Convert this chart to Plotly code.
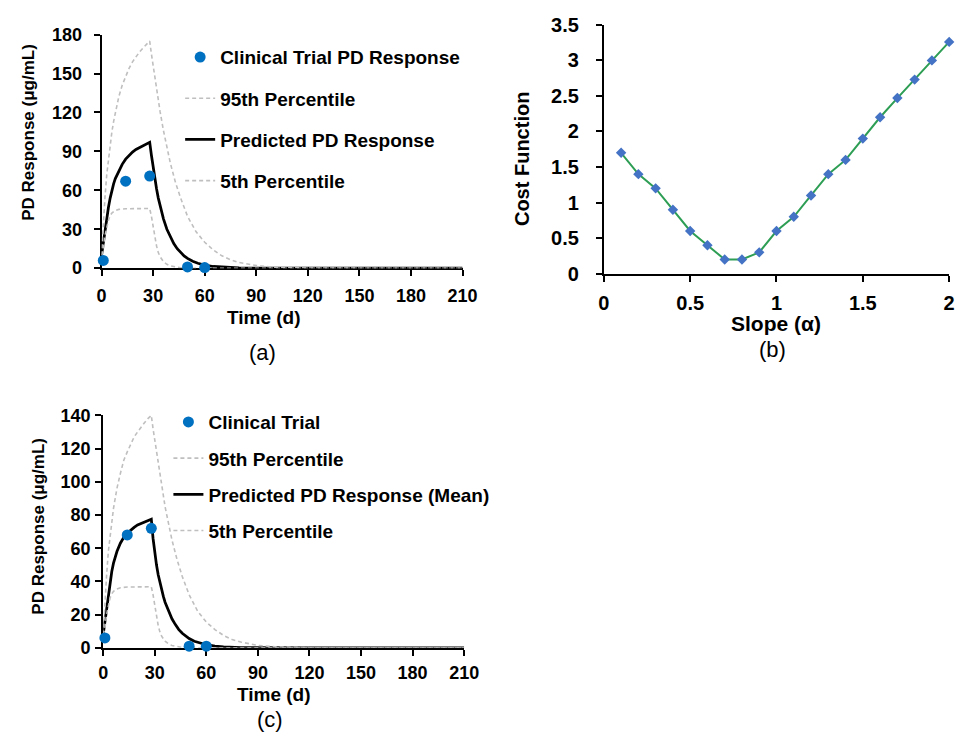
import plotly.graph_objects as go

W, H = 971, 743

# ---------------- Panel (a) data ----------------
trial_t = [1, 14, 28, 50, 60]
trial_a = [6, 67, 71, 1, 0.5]

pred_a_t = [0, 1, 2, 3, 4, 5, 6, 7, 8, 10, 12, 14, 16, 18, 20, 22, 24, 26, 28,
            29, 30, 31, 32, 33, 34, 35, 36, 38, 40, 42, 44, 46, 48, 50, 53, 56,
            60, 65, 70, 80, 90, 120, 210]
pred_a_v = [10, 20, 30, 39, 47, 54, 60, 65, 69, 75, 80, 84, 87, 89.5, 91.5, 93,
            94.5, 95.8, 97, 87, 77, 68, 61, 54, 48, 43, 38, 30, 24, 19, 15, 12,
            9.5, 7.5, 5.3, 3.8, 2.4, 1.3, 0.8, 0.3, 0.1, 0, 0]

p95_a_t = [0, 1, 2, 3, 4, 5, 6, 7, 8, 10, 12, 14, 16, 18, 20, 22, 24, 26, 28,
           29, 30, 31, 32, 34, 36, 38, 40, 43, 46, 50, 55, 60, 65, 70, 75, 80,
           90, 100, 120, 150, 210]
p95_a_v = [10, 35, 55, 72, 84, 95, 105, 113, 120, 132, 141, 148, 154, 159, 163,
           166.5, 169.5, 172.5, 175, 165, 156, 146, 138, 121, 106, 93, 81, 66,
           54, 40, 28, 20, 14, 9.5, 6.5, 4.4, 2, 0.8, 0.1, 0, 0]

p5_a_t = [0, 1, 2, 3, 4, 5, 6, 8, 10, 14, 20, 28, 29, 30, 31, 32, 33, 34, 36,
          38, 40, 43, 46, 50, 210]
p5_a_v = [10, 14, 25, 32, 37, 40.5, 42.5, 44.5, 45.3, 45.8, 46, 46, 40, 32, 24,
          17, 12, 9, 5, 3, 1.8, 0.8, 0.3, 0, 0]

# ---------------- Panel (b) data ----------------
slope = [0.1, 0.2, 0.3, 0.4, 0.5, 0.6, 0.7, 0.8, 0.9, 1.0,
         1.1, 1.2, 1.3, 1.4, 1.5, 1.6, 1.7, 1.8, 1.9, 2.0]
cost = [1.7, 1.4, 1.2, 0.9, 0.6, 0.4, 0.2, 0.2, 0.3, 0.6,
        0.8, 1.1, 1.4, 1.6, 1.9, 2.2, 2.47, 2.73, 3.0, 3.26]

# ---------------- Panel (c) data ----------------
trial_c = [6, 68, 72, 1, 1]

pred_c_t = [0, 1, 2, 3, 4, 5, 6, 7, 8, 10, 12, 14, 16, 18, 20, 22, 24, 26, 28,
            29, 30, 31, 32, 33, 34, 35, 36, 38, 40, 42, 44, 46, 48, 50, 53, 56,
            60, 65, 70, 80, 90, 120, 210]
pred_c_v = [8, 16, 25, 33, 40, 46, 51, 55, 58, 63, 66.5, 69, 71, 72.5, 74, 75,
            76, 76.8, 77.5, 66, 57, 50, 44, 39, 35, 31, 27.5, 22, 17.5, 14, 11,
            8.8, 7, 5.6, 4, 2.9, 1.9, 1.1, 0.6, 0.2, 0.1, 0, 0]

p95_c_t = [0, 1, 2, 3, 4, 5, 6, 7, 8, 10, 12, 14, 16, 18, 20, 22, 24, 26, 28,
           29, 30, 31, 32, 34, 36, 38, 40, 43, 46, 50, 55, 60, 65, 70, 75, 80,
           90, 100, 120, 150, 210]
p95_c_v = [8, 28, 44, 58, 67, 76, 84, 90, 96, 105, 113, 118, 123, 127, 130,
           133, 135.5, 138, 140, 132, 125, 117, 110, 97, 85, 75, 65, 53, 43, 32,
           22, 15.5, 11, 7.5, 5, 3.5, 1.5, 0.6, 0.1, 0, 0]

p5_c_t = [0, 1, 2, 3, 4, 5, 6, 8, 10, 14, 20, 28, 29, 30, 31, 32, 33, 34, 36,
          38, 40, 43, 46, 50, 210]
p5_c_v = [8, 12, 20, 26, 30, 32.5, 34, 35.5, 36.2, 36.6, 36.8, 36.8, 32, 25, 19,
          13.5, 9.5, 7, 4, 2.4, 1.4, 0.6, 0.2, 0, 0]

time_ticks = [0, 30, 60, 90, 120, 150, 180, 210]

# ---------------- styles ----------------
FONT = "Liberation Sans, Arial, sans-serif"
BLUE = "#0070C0"
GREY = "#BFBFBF"
DASH = "4px,3px"


def px(x, y):
    return x / W, 1 - y / H


fig = go.Figure()


def add_pd_panel(xa, ya, legend, trial, pred_t, pred_v, p95_t, p95_v, p5_t, p5_v, pred_name, trial_name):
    fig.add_trace(go.Scatter(x=pred_t, y=pred_v, mode="lines", name=pred_name,
                             line=dict(color="black", width=2.75),
                             xaxis=xa, yaxis=ya, legend=legend, legendrank=3,
                             legendgroup=legend + "p"))
    fig.add_trace(go.Scatter(x=p95_t, y=p95_v, mode="lines", name="<b>95th Percentile</b>",
                             line=dict(color=GREY, width=1.6, dash=DASH),
                             xaxis=xa, yaxis=ya, legend=legend, legendrank=2,
                             legendgroup=legend + "95"))
    fig.add_trace(go.Scatter(x=p5_t, y=p5_v, mode="lines", name="<b>5th Percentile</b>",
                             line=dict(color=GREY, width=1.6, dash=DASH),
                             xaxis=xa, yaxis=ya, legend=legend, legendrank=4,
                             legendgroup=legend + "5"))
    fig.add_trace(go.Scatter(x=trial_t, y=trial, mode="markers", name=trial_name,
                             marker=dict(color=BLUE, size=11),
                             cliponaxis=False,
                             xaxis=xa, yaxis=ya, legend=legend, legendrank=1,
                             legendgroup=legend + "c"))


add_pd_panel("x", "y", "legend", trial_a, pred_a_t, pred_a_v, p95_a_t, p95_a_v,
             p5_a_t, p5_a_v, "<b>Predicted PD Response</b>", "<b>Clinical Trial PD Response</b>")
add_pd_panel("x3", "y3", "legend2", trial_c, pred_c_t, pred_c_v, p95_c_t, p95_c_v,
             p5_c_t, p5_c_v, "<b>Predicted PD Response (Mean)</b>", "<b>Clinical Trial</b>")

fig.add_trace(go.Scatter(x=slope, y=cost, mode="lines+markers", showlegend=False,
                         line=dict(color="#2E9E55", width=2),
                         marker=dict(symbol="diamond", size=8, color="#4472C4"),
                         cliponaxis=False, xaxis="x2", yaxis="y2"))

axis_common = dict(showline=True, linecolor="black", linewidth=2, ticks="outside",
                   ticklen=6, tickwidth=2, tickcolor="black", showgrid=False,
                   zeroline=False, layer="below traces")

tick_ac = dict(family=FONT, size=18, color="black", weight="bold")
tick_b = dict(family=FONT, size=20, color="black", weight="bold")

fig.update_layout(
    width=W, height=H, margin=dict(l=0, r=0, t=0, b=0),
    paper_bgcolor="white", plot_bgcolor="white",
    xaxis=dict(domain=[0.1006, 0.4806], range=[0, 210], tickvals=time_ticks,
               anchor="y", tickfont=tick_ac, ticklabelstandoff=4, **axis_common),
    yaxis=dict(domain=[0.6433, 0.9673], range=[0, 180], dtick=30, anchor="x",
               tickfont=tick_ac, ticklabelstandoff=8, **axis_common),
    xaxis2=dict(domain=[0.6293, 0.9928], range=[0, 2], dtick=0.5, anchor="y2",
                tickfont=tick_b, ticklabelstandoff=4, **axis_common),
    yaxis2=dict(domain=[0.6357, 0.9808], range=[0, 3.5], dtick=0.5, anchor="x2",
                tickfont=tick_b, ticklabelstandoff=13, **axis_common),
    xaxis3=dict(domain=[0.1023, 0.4823], range=[0, 210], tickvals=time_ticks,
                anchor="y3", tickfont=tick_ac, ticklabelstandoff=2, **axis_common),
    yaxis3=dict(domain=[0.1167, 0.4392], range=[0, 140], dtick=20, anchor="x3",
                tickfont=tick_ac, ticklabelstandoff=1, **axis_common),
    legend=dict(x=178 / W, y=1 - 28 / H, xanchor="left", yanchor="top",
                font=dict(family=FONT, size=19, color="black"),
                traceorder="grouped", tracegroupgap=13.5, bgcolor="rgba(0,0,0,0)"),
    legend2=dict(x=166 / W, y=1 - 404 / H, xanchor="left", yanchor="top",
                 font=dict(family=FONT, size=19, color="black"),
                 traceorder="grouped", tracegroupgap=8.5, bgcolor="rgba(0,0,0,0)"),
    showlegend=True,
)

ann = [
    ("<b>Time (d)</b>", 264, 316, 19, 0),
    ("<b>PD Response (μg/mL)</b>", 23, 125, 17, -90),
    ("(a)", 261.7, 351.7, 22, 0),
    ("<b>Slope (α)</b>", 787, 322, 21, 0),
    ("<b>Cost Function</b>", 528, 153, 20, -90),
    ("(b)", 783, 349, 22, 0),
    ("<b>Time (d)</b>", 273.8, 704, 19, 0),
    ("<b>PD Response (μg/mL)</b>", 33.3, 530.8, 17, -90),
    ("(c)", 270, 730, 22, 0),
]
for text, x, y, size, ang in ann:
    xp, yp = px(x, y)
    fig.add_annotation(text=text, x=xp, y=yp, xref="paper", yref="paper",
                       xanchor="center", yanchor="middle", showarrow=False,
                       textangle=ang, font=dict(family=FONT, size=size, color="black"))

fig.write_html("out.html")
